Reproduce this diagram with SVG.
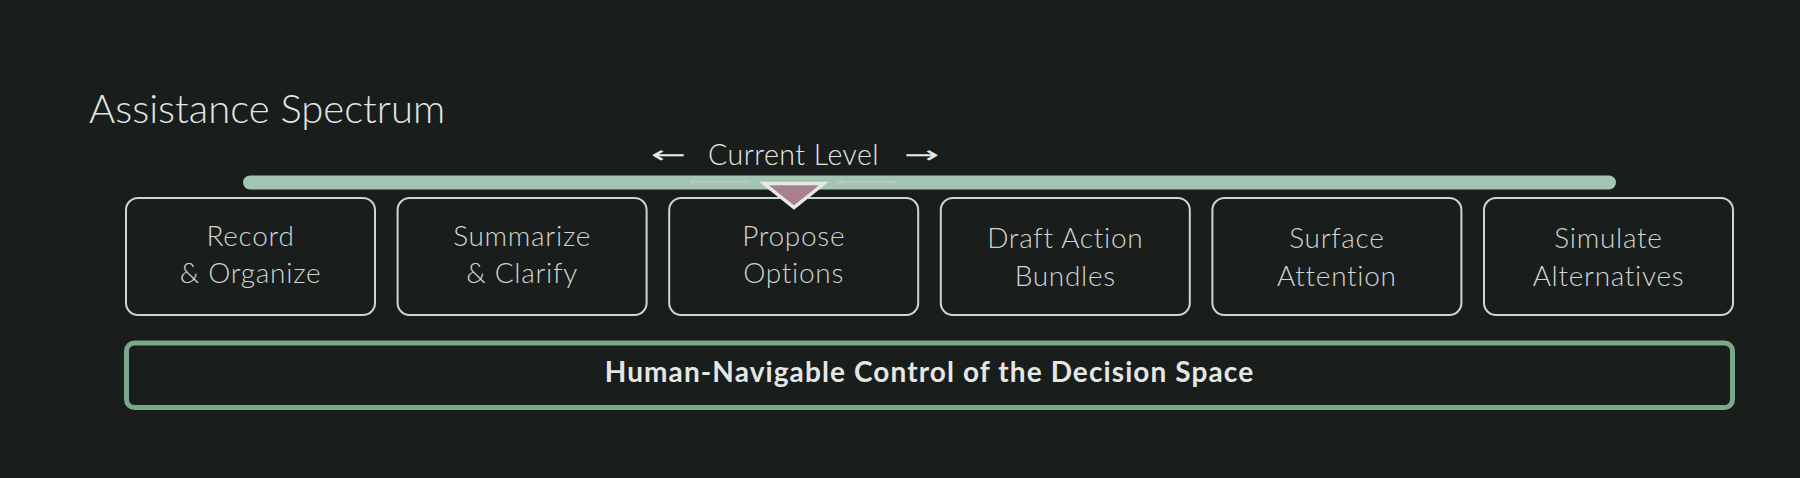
<svg xmlns="http://www.w3.org/2000/svg" width="1800" height="478" viewBox="0 0 1800 478">
<style>
.bg{fill:#191d1c}
.title{font-family:Lato,"Liberation Sans",sans-serif;font-size:40px;font-weight:300;fill:#e2e6e2}
.lvl{font-family:Lato,"Liberation Sans",sans-serif;font-size:28.5px;font-weight:300;fill:#e4e8e4;letter-spacing:0.5px}
.arr{font-family:"DejaVu Sans",sans-serif;font-size:24px;fill:#e4e8e4}
.box{fill:#191d1c;stroke:#c6dacd;stroke-width:2}
.bt{font-family:Lato,"Liberation Sans",sans-serif;font-size:28px;font-weight:300;fill:#cfd6d1;text-anchor:middle;letter-spacing:0.7px}
.base{fill:#191d1c;stroke:#7aa88a;stroke-width:5}
.bst{font-family:Lato,"Liberation Sans",sans-serif;font-size:28px;font-weight:bold;fill:#e4e8e4;text-anchor:middle;letter-spacing:1.1px}
.faint{stroke:#bcc5c0;stroke-width:2;fill:none}
</style>
<defs>
<marker id="fh" viewBox="0 0 10 10" refX="9" refY="5" markerWidth="8" markerHeight="8" orient="auto-start-reverse" markerUnits="userSpaceOnUse">
<path d="M1,1 L9,5 L1,9" fill="none" stroke="#bcc5c0" stroke-width="1.5"/>
</marker>
</defs>
<rect class="bg" x="0" y="0" width="1800" height="478"/>
<text class="title" x="89" y="123">Assistance Spectrum</text>
<g id="level-label">
<text class="arr" transform="translate(651,163) scale(1.75,1)" x="0" y="0">←</text>
<text class="lvl" x="708" y="165">Current Level</text>
<text class="arr" transform="translate(904,163) scale(1.75,1)" x="0" y="0">→</text>
</g>
<g id="spectrum-bar">
<line x1="250" y1="182.5" x2="1609" y2="182.5" stroke="#a3c4b0" stroke-width="14" stroke-linecap="round"/>
</g>
<g id="connectors">
<line class="faint" x1="690" y1="182" x2="750" y2="182" marker-start="url(#fh)" marker-end="url(#fh)"/>
<line class="faint" x1="838" y1="182" x2="897" y2="182" marker-start="url(#fh)" marker-end="url(#fh)"/>
</g>
<g id="n1"><rect class="box" x="126" y="198" width="249" height="117" rx="12"/>
<text class="bt" x="250.5" y="246">Record</text><text class="bt" x="250.5" y="283">&amp; Organize</text></g>
<g id="n2"><rect class="box" x="397.6" y="198" width="249" height="117" rx="12"/>
<text class="bt" x="522.1" y="246">Summarize</text><text class="bt" x="522.1" y="283">&amp; Clarify</text></g>
<g id="n3"><rect class="box" x="669.2" y="198" width="249" height="117" rx="12"/>
<text class="bt" x="793.7" y="246">Propose</text><text class="bt" x="793.7" y="283">Options</text></g>
<g id="n4"><rect class="box" x="940.8" y="198" width="249" height="117" rx="12"/>
<text class="bt" x="1065.3" y="248">Draft Action</text><text class="bt" x="1065.3" y="286">Bundles</text></g>
<g id="n5"><rect class="box" x="1212.4" y="198" width="249" height="117" rx="12"/>
<text class="bt" x="1336.9" y="248">Surface</text><text class="bt" x="1336.9" y="286">Attention</text></g>
<g id="n6"><rect class="box" x="1484" y="198" width="249" height="117" rx="12"/>
<text class="bt" x="1608.5" y="248">Simulate</text><text class="bt" x="1608.5" y="286">Alternatives</text></g>
<g id="indicator">
<polygon points="764,183.5 824,183.5 794,207.5" fill="#a8818f" stroke="#e6e9e5" stroke-width="3.5"/>
</g>
<g id="base">
<rect class="base" x="126.5" y="343" width="1606" height="64.5" rx="8"/>
<text class="bst" x="929.5" y="382">Human-Navigable Control of the Decision Space</text>
</g>
</svg>
